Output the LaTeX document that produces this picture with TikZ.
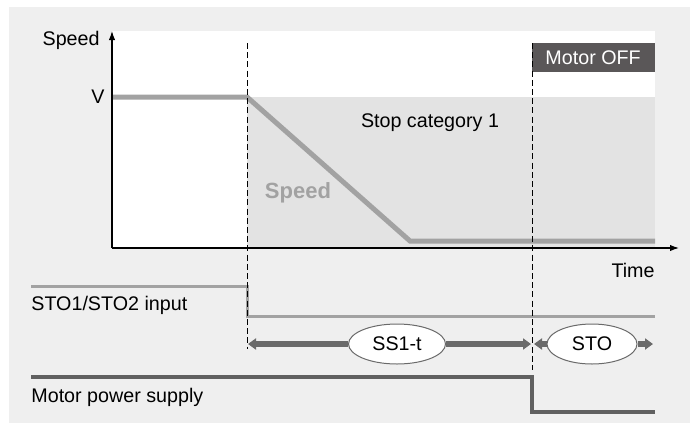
\documentclass[tikz,border=0pt]{standalone}
\usepackage{fontspec}
\setmainfont{Liberation Sans}
\usepackage{tikz}
\usetikzlibrary{arrows.meta, shapes, positioning}

\definecolor{panelgray}{HTML}{EFEFEF}
\definecolor{zonegray}{HTML}{E3E3E3}
\definecolor{tracegray}{HTML}{A2A2A2}
\definecolor{powergray}{HTML}{606060}
\definecolor{spangray}{HTML}{6A6A6A}
\definecolor{offgray}{HTML}{5A5758}

\tikzset{
	axis/.style={line width=0.6pt, -{Latex[length=4.5pt,width=3.2pt]}},
	marker/.style={line width=0.5pt, dash pattern=on 3pt off 1.6pt},
	speedtrace/.style={tracegray, line width=2.5pt},
	stotrace/.style={tracegray, line width=1.5pt},
	powertrace/.style={powergray, line width=2.2pt},
	span/.style={spangray, line width=2.6pt, -{Triangle[length=4pt,width=5.5pt]}},
	phase/.style={ellipse, draw=spangray, line width=0.5pt, fill=white, inner sep=0pt},
	offbox/.style={fill=offgray, text=white, inner sep=0pt,
		minimum width=61.5pt, minimum height=14.5pt},
	tag/.style={inner sep=0pt},
}

\begin{document}
\begin{tikzpicture}[x=0.5pt, y=-0.5pt, font=\fontsize{9.85}{12}\selectfont]
	\useasboundingbox (0,0) rectangle (690,423);
	\fill[panelgray] (9,7) rectangle (690,423);
	\fill[white] (112,31) rectangle (655,248);
	\fill[zonegray] (247,97) rectangle (655,248);

	% axes
	\coordinate (origin) at (112,248);
	\coordinate (ytop) at (112,31);
	\coordinate (xend) at (679,248);
	\draw[axis] (origin) -- (ytop);
	\draw[axis] (origin) -- (xend);
	\node[tag, anchor=east] (speedlbl) at (100,40) {Speed};
	\node[tag, anchor=east] (vlbl) at (105,97) {V};
	\node[tag, anchor=east] (timelbl) at (655,270) {Time};

	% speed profile
	\coordinate (v0) at (113,97);
	\coordinate (v1) at (247,97);
	\coordinate (v2) at (410,241);
	\coordinate (v3) at (655,241);
	\draw[speedtrace, line join=miter] (v0) -- (v1) -- (v2) -- (v3);
	\node[tracegray, font=\fontsize{11}{13}\selectfont\bfseries] (speedname) at (298,193) {Speed};
	\node (cat) at (430,123) {Stop category 1};
	\node[offbox, anchor=north east] (off) at (655,43) {Motor OFF};

	% STO1/STO2 input
	\coordinate (s0) at (31,286);
	\coordinate (s1) at (247,286);
	\coordinate (s2) at (247,316);
	\coordinate (s3) at (655,316);
	\draw[stotrace] (s0) -- (s1) -- (s2) -- (s3);
	\node[tag, anchor=west] (stolbl) at (31,305) {STO1/STO2 input};

	% motor power supply
	\coordinate (p0) at (31,377);
	\coordinate (p1) at (532,377);
	\coordinate (p2) at (532,412);
	\coordinate (p3) at (655,412);
	\draw[powertrace] (p0) -- (p1) -- (p2) -- (p3);
	\node[tag, anchor=west] (powerlbl) at (31,397) {Motor power supply};

	% time markers
	\coordinate (t1top) at (247,43);
	\coordinate (t1bot) at (247,349);
	\coordinate (t2top) at (532,43);
	\coordinate (t2bot) at (532,370);
	\draw[marker] (t1top) -- (t1bot);
	\draw[marker] (t2top) -- (t2bot);

	% phases
	\coordinate (a0) at (248,344);
	\coordinate (a1) at (531,344);
	\coordinate (a2) at (534,344);
	\coordinate (a3) at (653,344);
	\node[phase, minimum width=48.5pt, minimum height=20pt] (ss1) at (397,344) {SS1-t};
	\node[phase, minimum width=45pt, minimum height=20pt] (sto) at (592,344) {STO};
	\draw[span] (ss1) -- (a0);
	\draw[span] (ss1) -- (a1);
	\draw[span] (sto) -- (a2);
	\draw[span] (sto) -- (a3);
\end{tikzpicture}
\end{document}
